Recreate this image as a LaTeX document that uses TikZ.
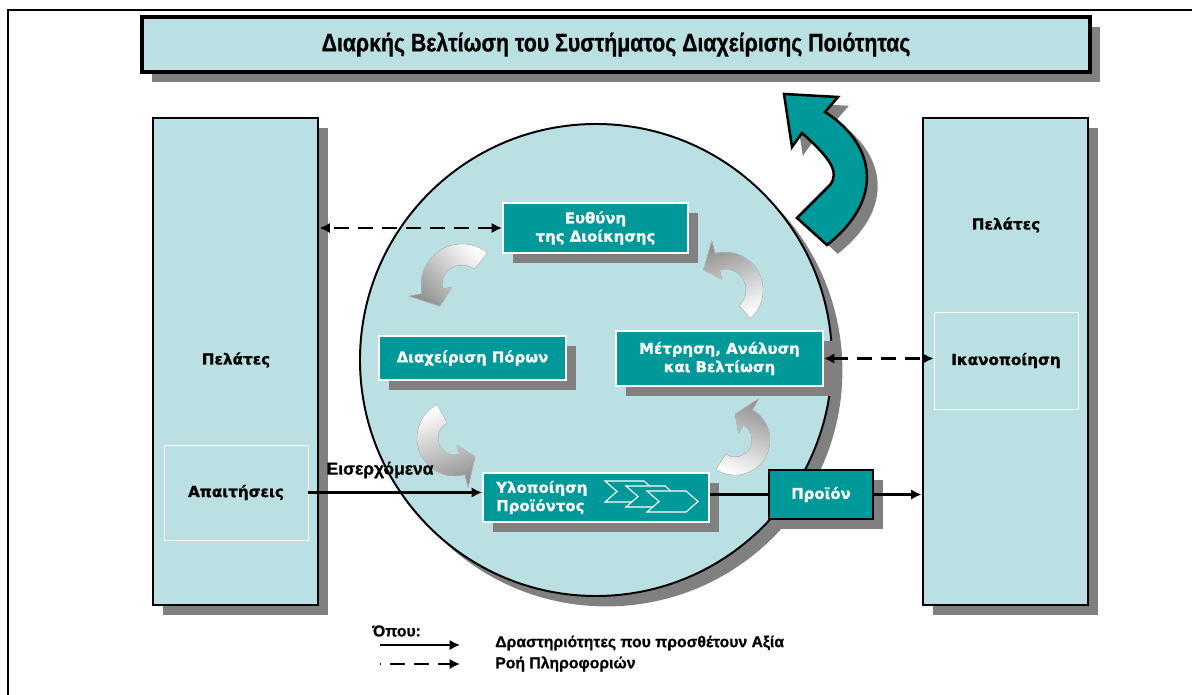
\documentclass[tikz,border=0pt]{standalone}
\usepackage{fontspec}
\setmainfont{DejaVu Sans}[BoldFont={DejaVu Sans Bold}, BoldFeatures={FakeBold=1}]
\newfontfamily\arialfont{Liberation Sans}[BoldFont={Liberation Sans Bold}, BoldFeatures={FakeBold=0.8}]
\newfontfamily\narrowfont{Liberation Sans Bold}[FakeStretch=0.84, FakeBold=0.8]
\usetikzlibrary{shadows,arrows.meta}
\definecolor{paleteal}{RGB}{187,224,227}
\definecolor{deepteal}{RGB}{0,153,153}
\definecolor{shadowgray}{RGB}{128,128,128}

\newcommand{\loopbend}[8]{%
  \fill[bendshade, shading angle=#8]
    ([shift={(#3:#6)}]#1,#2) arc[start angle=#3, end angle=#4, radius=#6]
    -- ([shift={(#4:{#6+13})}]#1,#2) -- ([shift={({#4+#7}:{(#5+#6)/2})}]#1,#2)
    -- ([shift={(#4:{#5-10})}]#1,#2) -- ([shift={(#4:#5)}]#1,#2)
    arc[start angle=#4, end angle=#3, radius=#5] -- cycle;}

\begin{document}
\begin{tikzpicture}[x=0.25mm, y=0.25mm, >={Latex[length=2.6mm,width=2.6mm]},
  shade/.style={drop shadow={shadow xshift=2.6mm, shadow yshift=-2.6mm, fill=shadowgray, opacity=1}},
  flow/.style={line width=2.1pt, ->},
  info/.style={line width=2.1pt, dash pattern=on 3.75mm off 2.25mm},
  sidebox/.style={draw, line width=2.1pt, fill=paleteal, minimum width=41.25mm, minimum height=121.75mm, inner sep=0pt, shade},
  innerbox/.style={draw=white, line width=0.6pt, minimum width=36mm, inner sep=0pt, font=\fontsize{10.8}{12}\selectfont\bfseries},
  boxlabel/.style={font=\fontsize{10.8}{12}\selectfont\bfseries},
  tealtext/.style={text=white, inner sep=0pt, font=\fontsize{10.6}{13}\selectfont\bfseries},
  tealbox/.style={tealtext, draw=white, line width=1.4pt, fill=deepteal, align=center, shade},
  legendtxt/.style={font=\arialfont\fontsize{11.2}{12}\selectfont\bfseries, inner sep=0pt},
  bendshade/.style={top color=gray!85, bottom color=white, draw=gray!45, line width=0.3pt}
]
\useasboundingbox (0,0) rectangle (1192,-695);
\draw[line width=2.1pt] (8,-695) -- (8,-10) -- (1192,-10);

\node[draw, line width=2.8pt, fill=paleteal, minimum width=237mm, minimum height=13.75mm, inner sep=0pt, shade,
  font=\narrowfont\fontsize{18}{20}\selectfont] (title) at (616,-44.5)
  {Διαρκής Βελτίωση του Συστήματος Διαχείρισης Ποιότητας};

\node[sidebox] (custL) at (235.5,-361.5) {};
\node[sidebox] (custR) at (1005.5,-361.5) {};
\node[boxlabel] (custLtxt) at (236,-360) {Πελάτες};
\node[boxlabel] (custRtxt) at (1006,-225) {Πελάτες};
\node[innerbox, minimum height=23.75mm] (req) at (236,-492.5) {Απαιτήσεις};
\node[innerbox, minimum height=24.25mm] (sat) at (1006,-360.5) {Ικανοποίηση};

\node[circle, draw, line width=1.4pt, fill=paleteal, minimum size=118mm, inner sep=0pt, shade] (cycle) at (596,-360) {};

\draw[line width=1.8pt, fill=deepteal, drop shadow={shadow xshift=2.7mm, shadow yshift=-2.2mm, fill=shadowgray, opacity=1}]
  (784,-94) -- (838,-97) -- (825,-112) .. controls (870,-140) and (890,-195) .. (827,-245)
  -- (797,-218) -- (830,-185) .. controls (840,-172) and (830,-158) .. (802,-133) -- (792,-147) -- cycle;

\node[tealbox, minimum width=46.25mm, minimum height=12.5mm] (resp) at (595.5,-228) {Ευθύνη\\της Διοίκησης};
\node[tealbox, minimum width=46.75mm, minimum height=11mm] (res) at (472.5,-358) {Διαχείριση Πόρων};
\node[tealbox, minimum width=51.75mm, minimum height=13.75mm] (meas) at (719.5,-358.5) {Μέτρηση, Ανάλυση\\και Βελτίωση};
\node[tealbox, minimum width=56.5mm, minimum height=12.25mm] (real) at (596,-497.5) {};
\node[tealtext, anchor=west, align=left] (realtxt) at ([xshift=3.5mm]real.west) {Υλοποίηση\\Προϊόντος};
\foreach \i in {0,1,2}
  \draw[white, fill=deepteal, line width=0.8pt, shift={(605+21*\i,-481-5*\i)}]
    (0,0) -- (39,0) -- (51,-10.5) -- (39,-21) -- (0,-21) -- (12,-10.5) -- cycle;
\node[tealbox, draw=black, line width=2.1pt, minimum width=26mm, minimum height=12.25mm] (prod) at (821,-494.5) {Προϊόν};

\loopbend{462}{-285}{52}{192}{20}{41}{32}{135}
\loopbend{455}{-438}{118}{285}{17}{38}{32}{200}
\loopbend{735}{-440}{237}{420}{17}{35}{30}{-20}
\loopbend{725}{-290}{312}{465}{21}{38}{32}{20}

\draw[info, <->] (resp.west) -- (resp.west -| custL.east);
\draw[info, <->] (meas.east) -- (meas.east -| sat.west);
\node[legendtxt, font=\arialfont\fontsize{12.4}{14}\selectfont\bfseries] (inlbl) at (380,-470) {Εισερχόμενα};
\draw[flow] (req.east) -- (req.east -| real.west);
\draw[line width=2.1pt] (real.east |- prod.west) -- (prod.west);
\draw[flow] (prod.east) -- (prod.east -| custR.west);

\node[legendtxt, anchor=west] (where) at (372,-631) {Όπου:};
\coordinate (solidA) at (380,-645);
\coordinate (solidB) at (460,-645);
\coordinate (dashA) at (380,-664);
\coordinate (dashB) at (460,-664);
\draw[flow] (solidA) -- (solidB);
\draw[info, dash phase=3.5mm, ->] (dashA) -- (dashB);
\node[legendtxt, anchor=west] (valtxt) at (495,-643) {Δραστηριότητες που προσθέτουν Αξία};
\node[legendtxt, anchor=west] (infotxt) at (495,-664) {Ροή Πληροφοριών};
\end{tikzpicture}
\end{document}
